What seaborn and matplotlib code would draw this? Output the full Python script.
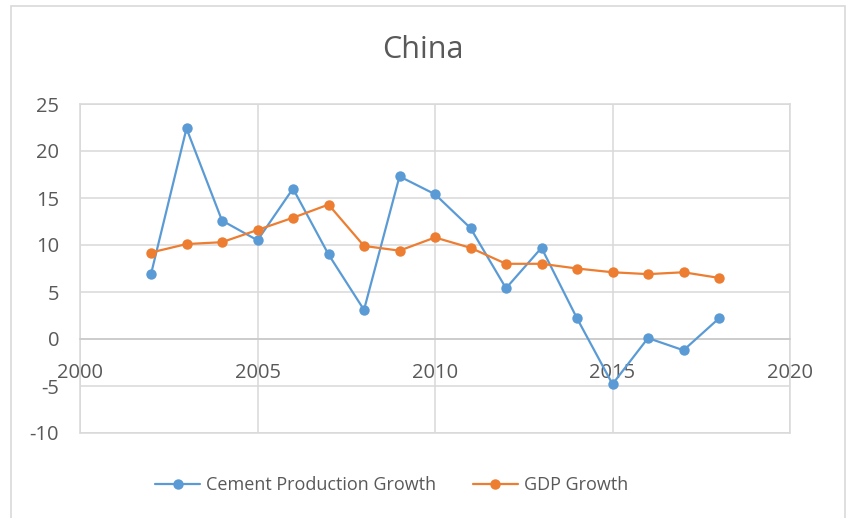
import matplotlib
matplotlib.use("Agg")
import matplotlib.pyplot as plt
from matplotlib.patches import Rectangle
import seaborn as sns
import pandas as pd

years = [2002, 2003, 2004, 2005, 2006, 2007, 2008, 2009, 2010,
         2011, 2012, 2013, 2014, 2015, 2016, 2017, 2018]
cement_growth = [6.9, 22.4, 12.6, 10.5, 16.0, 9.0, 3.1, 17.3, 15.4,
                 11.8, 5.4, 9.7, 2.2, -4.8, 0.1, -1.2, 2.2]
gdp_growth = [9.2, 10.1, 10.3, 11.6, 12.9, 14.3, 9.9, 9.4, 10.8,
              9.7, 8.0, 8.0, 7.5, 7.1, 6.9, 7.1, 6.5]
series_names = ["Cement Production Growth", "GDP Growth"]
colors = ["#5B9BD5", "#ED7D31"]
x_ticks = [2000, 2005, 2010, 2015, 2020]
y_ticks = [-10, -5, 0, 5, 10, 15, 20, 25]
title = "China"

df = pd.concat([
    pd.DataFrame({"Year": years, "Value": cement_growth, "Series": series_names[0]}),
    pd.DataFrame({"Year": years, "Value": gdp_growth, "Series": series_names[1]}),
])

sns.set_theme(style="white")
plt.rcParams["font.family"] = ["Open Sans", "DejaVu Sans"]
plt.rcParams["axes.unicode_minus"] = False
text_color = "#595959"
grid_color = "#d9d9d9"

fig = plt.figure(figsize=(8.46, 5.18), dpi=100)
W, H = 846, 518
ax = fig.add_axes([80 / W, 1 - 433 / H, 710 / W, 329 / H])

sns.lineplot(data=df, x="Year", y="Value", hue="Series", palette=colors,
             marker="o", markersize=7.5, markeredgewidth=0, linewidth=1.6,
             ax=ax, legend=True, zorder=3)

ax.set_xlim(2000, 2020)
ax.set_ylim(-10, 25)
ax.set_xticks(x_ticks)
ax.set_yticks(y_ticks)
ax.set_xlabel("")
ax.set_ylabel("")
ax.grid(True, color=grid_color, linewidth=1.1, zorder=0)
ax.set_axisbelow(True)

for s in ["left", "right", "top"]:
    ax.spines[s].set_color(grid_color)
    ax.spines[s].set_linewidth(1.1)
ax.spines["bottom"].set_position(("data", 0))
ax.spines["bottom"].set_color("#c8c8c8")
ax.spines["bottom"].set_linewidth(1.1)
ax.axhline(-10, color=grid_color, linewidth=1.1, clip_on=False, zorder=0)

ax.tick_params(axis="both", length=0, labelsize=14.5, labelcolor=text_color)
ax.tick_params(axis="x", pad=17)
ax.tick_params(axis="y", pad=15)

fig.text(0.5, 1 - 50 / H, title, ha="center", va="center",
         fontsize=22, color=text_color)

handles, labels = ax.get_legend_handles_labels()
ax.get_legend().remove()
leg = fig.legend(handles, labels, loc="center left",
                 bbox_to_anchor=(155 / W, 1 - 485 / H),
                 ncol=2, frameon=False, fontsize=13, handlelength=2.5,
                 handletextpad=0.35, columnspacing=2.0,
                 borderpad=0, borderaxespad=0)
for t in leg.get_texts():
    t.set_color(text_color)

fig.add_artist(Rectangle((10.5 / W, -0.05), (845 - 10.5) / W, 1.05 - 5.5 / H,
                         transform=fig.transFigure, fill=False,
                         edgecolor=grid_color, linewidth=1.2))

fig.savefig("out.png", dpi=100, facecolor="white")
